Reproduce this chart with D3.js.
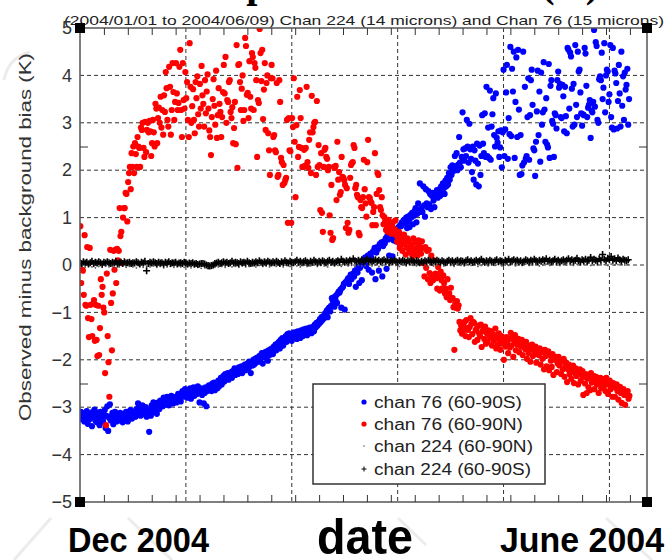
<!DOCTYPE html>
<html>
<head>
<meta charset="utf-8">
<script src="https://cdn.jsdelivr.net/npm/d3@7"></script>
<style>
  html, body { margin: 0; padding: 0; background: #fff; }
  svg { display: block; }
</style>
</head>
<body>
<div id="chart"></div>
<script>
// Observed-minus-background departures, 2004-01-01 (day 0) to 2004-06-09 (day 160).
// chan 76 series: 4 analyses per day; chan 224 (60-90S): 2 per day; chan 224 (60-90N): 1 per day.
const perDay76 = 4, perDay224S = 2, perDay224N = 1;

const chan76S = [
  -3.18,-3.1,-3.25,-3.15,-3.22,-3.3,-3.12,-3.2,-3.08,-3.35,-3.18,-3.26,-3.14,-3.22,-3.4,-3.1,
  -3.2,-3.05,-3.28,-3.16,-3.32,-3.12,-3.22,-3.38,-3.1,-3.24,-3.16,-3.3,-3.2,-3.06,-3.44,-3.18,
  -2.98,-3.5,-3.22,-2.94,-3.28,-3.18,-3.12,-3.36,-3.24,-3.1,-3.2,-3.3,-3.16,-3.28,-3.22,-3.12,
  -3.26,-3.18,-3.32,-3.14,-3.2,-3.28,-3.1,-3.24,-3.3,-3.16,-3.22,-3.06,-3.18,-3.24,-3.1,-3.2,
  -3.12,-3.2,-3.04,-3.16,-2.92,-3.1,-3.0,-3.18,-3.06,-2.96,-3.14,-3.02,-3.1,-3.0,-3.2,-3.08,
  -3.12,-3.52,-3.04,-3.18,-2.96,-3.1,-2.9,-3.02,-3.08,-2.92,-3.14,-2.98,-2.9,-3.04,-2.86,-2.96,
  -2.88,-2.98,-2.8,-2.92,-2.84,-2.94,-2.78,-2.9,-2.96,-2.82,-2.88,-2.76,-2.86,-2.92,-2.8,-2.88,
  -2.78,-2.9,-2.82,-2.72,-2.84,-2.76,-2.88,-2.7,-2.66,-2.78,-2.72,-2.62,-2.74,-2.68,-2.8,-2.64,
  -2.72,-2.6,-2.82,-2.68,-2.7,-2.58,-2.76,-2.64,-2.62,-2.72,-2.56,-2.66,-2.9,-2.68,-2.6,-2.74,
  -2.64,-2.92,-2.7,-2.58,-2.98,-2.66,-2.6,-2.54,-2.62,-2.56,-2.66,-2.5,-2.58,-2.48,-2.64,-2.54,
  -2.5,-2.6,-2.44,-2.56,-2.46,-2.38,-2.52,-2.42,-2.34,-2.46,-2.3,-2.4,-2.36,-2.28,-2.42,-2.32,
  -2.3,-2.26,-2.38,-2.24,-2.28,-2.18,-2.32,-2.22,-2.2,-2.3,-2.16,-2.24,-2.22,-2.14,-2.28,-2.18,
  -2.16,-2.1,-2.22,-2.12,-2.08,-2.18,-2.04,-2.14,-2.28,-2.06,-2.12,-2.0,-2.1,-1.98,-2.06,-1.96,
  -1.96,-2.04,-1.92,-2.0,-1.9,-1.86,-2.08,-1.94,-1.88,-1.84,-1.96,-1.82,-2.02,-1.8,-1.9,-1.78,
  -1.82,-1.76,-1.88,-1.72,-1.74,-1.68,-1.8,-1.66,-1.7,-1.62,-1.76,-1.58,-1.64,-1.54,-1.7,-1.6,
  -1.56,-1.5,-1.62,-1.46,-1.52,-1.44,-1.58,-1.48,-1.6,-1.46,-1.52,-1.42,-1.5,-1.44,-1.56,-1.4,
  -1.48,-1.42,-1.54,-1.38,-1.44,-1.5,-1.36,-1.46,-1.4,-1.34,-1.48,-1.36,-1.42,-1.32,-1.38,-1.44,
  -1.36,-1.3,-1.4,-1.26,-1.32,-1.22,-1.28,-1.2,-1.24,-1.14,-1.2,-1.1,-1.16,-1.08,-1.12,-1.02,
  -1.04,-0.96,-1.1,-0.92,-0.9,-0.98,-0.86,-0.7,-0.76,-0.68,-0.88,-0.72,-0.64,-0.8,-0.6,-0.56,
  -0.58,-0.52,-0.9,-0.48,-0.46,-0.4,-0.94,-0.36,-0.38,-0.32,-0.28,-0.4,-0.26,-0.2,-0.3,-0.22,
  -0.18,-0.24,-0.12,-0.46,-0.1,-0.16,-0.04,-0.38,-0.06,0.02,-0.32,0.08,0.1,0.04,0.16,-0.02,
  0.12,0.2,-0.1,0.18,0.24,0.16,-0.16,0.28,0.3,0.36,-0.3,0.26,0.38,0.34,-0.12,0.44,
  0.42,0.48,-0.24,0.4,0.5,0.46,0.56,-0.08,0.62,0.54,0.2,0.6,0.58,0.66,0.18,0.52,
  0.7,0.64,0.5,0.76,0.74,0.8,0.68,0.84,0.82,0.9,0.48,0.94,0.96,0.88,1.0,0.78,
  1.02,0.92,0.8,1.06,1.0,1.1,0.86,1.04,1.14,1.2,0.9,1.08,1.3,1.16,1.72,1.12,
  1.2,1.12,1.66,1.26,1.02,1.6,1.3,1.22,1.56,1.28,1.5,1.18,1.46,1.52,1.36,1.22,
  1.44,1.48,1.58,1.42,1.52,1.6,1.46,1.66,1.54,1.72,1.62,1.5,1.78,1.66,1.84,1.7,
  1.94,1.8,2.06,1.9,2.1,1.98,2.04,2.3,2.08,2.36,2.0,2.12,2.7,2.16,2.06,2.28,
  3.22,2.44,2.2,2.46,2.3,3.06,2.5,2.16,2.98,2.44,2.24,1.96,2.5,1.8,2.42,2.2,
  1.7,2.56,2.14,1.66,2.52,1.9,2.3,3.16,2.56,2.36,3.2,2.28,3.76,2.3,2.9,2.26,
  3.68,2.22,2.92,3.18,3.52,2.74,2.5,3.62,2.68,2.58,2.82,2.28,2.48,2.84,2.06,2.8,
  4.12,2.3,2.86,3.64,4.22,2.24,3.1,2.76,4.6,2.72,4.14,3.66,4.5,2.26,3.44,4.38,
  2.7,4.54,3.28,1.9,2.74,1.92,2.1,4.5,2.16,3.76,2.24,2.3,3.12,3.94,2.22,3.16,
  3.9,4.12,3.38,2.46,2.42,1.88,2.6,3.24,4.1,2.74,3.66,2.18,4.06,2.96,3.22,4.28,
  3.28,2.6,3.52,2.54,2.48,4.24,2.26,3.78,3.9,3.04,2.98,2.28,3.2,3.16,2.88,3.9,
  4.08,3.74,3.82,3.12,3.1,3.8,3.56,2.82,3.76,3.14,2.78,4.58,4.54,3.3,4.48,4.4,
  3.72,2.92,3.82,2.96,4.64,3.38,3.12,4.5,4.08,4.12,3.64,3.2,2.94,3.18,3.16,4.58,
  4.46,3.78,3.12,3.32,3.38,3.48,2.68,3.26,3.22,3.44,4.96,3.34,4.7,4.62,3.06,3.0,
  3.92,3.98,3.9,4.48,3.5,3.74,4.68,3.22,4.0,4.12,4.08,3.44,3.6,4.64,3.12,2.9,
  4.58,2.86,4.1,4.04,3.84,2.88,3.46,4.22,3.62,2.92,4.5,3.36,3.98,3.06,4.06,3.7,
  3.8,4.14,2.96,3.5
];

const chan76N = [
  0.82,-0.38,-0.1,-0.12,-0.63,0.63,-0.84,-0.86,0.38,-1.12,-1.52,0.36,-0.84,-1.14,-1.5,-0.82,
  -0.74,-1.6,-0.84,-1.58,-1.92,-0.86,-1.9,-1.33,-0.3,-0.63,-0.46,-0.9,-1.0,-2.28,-3.38,-0.18,
  -1.5,-2.05,-2.78,0.32,-0.8,-1.8,-0.6,0.3,-0.1,0.32,-0.38,0.34,0.1,0.3,1.2,0.61,
  0.7,0.04,1.0,1.2,1.2,1.52,1.5,0.92,1.75,1.94,2.07,1.6,2.36,2.07,2.5,1.94,
  2.57,2.34,2.07,2.7,2.5,2.47,2.07,2.9,2.85,3.0,2.47,2.28,3.02,2.38,2.85,3.0,
  2.8,3.04,2.82,2.3,2.57,3.06,2.8,2.5,3.4,3.3,2.57,3.1,3.32,3.0,3.55,2.9,
  3.27,2.75,3.58,3.23,4.07,3.73,3.06,2.92,4.18,3.76,2.75,3.27,4.26,3.65,3.06,3.44,
  4.26,3.62,3.27,3.42,4.18,4.54,3.27,2.7,4.26,3.48,3.3,4.07,3.52,3.86,3.06,2.7,
  4.68,3.76,3.0,3.35,3.71,3.06,2.78,3.86,3.52,3.98,3.18,2.92,3.82,3.3,4.2,3.58,
  3.4,2.92,3.9,3.2,3.66,4.02,3.3,2.84,2.7,2.32,3.12,3.5,3.92,3.36,2.96,4.1,
  2.68,3.16,3.73,3.4,3.23,2.7,3.12,3.65,4.22,3.62,4.39,3.0,3.48,3.44,3.86,3.9,
  3.23,3.1,3.33,2.57,2.89,3.44,2.55,4.64,2.05,4.22,4.24,3.86,3.27,3.72,4.0,3.04,
  3.27,4.79,4.62,3.59,3.63,3.1,4.3,3.55,3.3,4.47,4.39,3.27,4.26,4.16,3.9,2.28,
  3.48,3.42,4.98,4.47,3.88,4.54,3.08,3.7,4.26,2.85,3.84,4.0,2.78,2.42,1.9,3.94,
  4.22,3.94,2.7,2.74,2.42,2.38,3.84,1.86,1.9,3.9,3.44,2.26,2.17,1.69,2.11,1.73,
  1.79,1.84,3.06,0.89,3.1,2.42,2.4,0.89,3.1,2.91,3.94,2.6,1.43,2.95,3.55,2.28,
  2.49,3.69,3.1,2.47,2.07,2.07,2.43,2.09,2.47,3.76,2.17,2.05,2.64,2.8,1.94,3.57,
  2.8,2.91,3.0,3.02,1.9,3.46,2.07,2.53,2.11,1.16,2.36,1.1,0.7,2.07,2.43,2.47,
  2.28,2.24,2.0,2.07,1.05,0.68,1.69,0.53,0.57,2.07,2.05,2.09,1.37,2.6,1.8,1.96,
  1.48,1.54,2.28,1.86,1.84,1.79,1.69,0.78,1.62,0.89,0.68,0.74,1.84,2.11,2.15,2.17,
  2.53,2.47,1.62,1.69,1.48,1.43,0.68,0.63,1.37,1.22,1.2,1.43,2.22,1.6,1.3,1.02,
  2.17,2.64,1.43,1.41,1.33,1.31,0.84,1.12,1.22,2.36,0.84,1.5,1.94,1.9,1.58,1.22,
  1.16,1.43,1.05,0.86,1.01,0.92,0.74,0.82,0.7,0.95,0.88,0.78,0.66,0.84,0.9,0.72,
  0.76,0.94,0.62,0.5,0.48,0.7,0.36,0.58,0.42,0.3,0.52,0.64,0.46,0.22,0.38,0.56,
  0.34,0.5,0.26,0.44,0.4,0.18,0.56,0.32,0.28,0.48,0.36,0.2,0.52,0.42,0.3,0.24,
  0.5,0.04,0.36,-0.24,0.38,-0.06,0.3,-0.3,0.32,-0.17,-0.38,0.2,-0.26,-0.32,0.1,-0.2,
  -0.18,-0.28,-0.5,-0.04,-0.25,-0.54,-0.14,-0.32,-0.49,-0.22,-0.38,-0.6,-0.5,-0.68,-0.3,-0.62,
  -0.6,-0.74,-0.48,-0.7,-0.7,-0.89,-1.79,-0.82,-0.9,-0.76,-0.92,-0.85,-1.2,-1.38,-1.28,-1.45,
  -1.41,-1.31,-1.2,-1.5,-1.16,-1.33,-1.37,-1.52,-1.31,-1.12,-1.24,-1.46,-1.2,-1.22,-1.62,-1.38,
  -1.34,-1.58,-1.28,-1.44,-1.5,-1.26,-1.73,-1.4,-1.36,-1.56,-1.3,-1.66,-1.44,-1.62,-1.38,-1.5,
  -1.52,-1.4,-1.7,-1.46,-1.6,-1.48,-1.34,-1.76,-1.54,-1.68,-1.44,-1.62,-1.79,-1.5,-1.66,-1.58,
  -2.0,-1.6,-1.72,-1.52,-1.64,-1.86,-1.56,-1.74,-1.43,-1.7,-1.52,-1.94,-1.6,-1.48,-1.8,-1.66,
  -1.68,-1.56,-1.84,-1.62,-1.72,-1.58,-1.9,-1.66,-1.65,-1.78,-1.62,-1.98,-1.73,-1.86,-1.7,-2.04,
  -1.76,-1.68,-1.92,-1.8,-1.82,-1.72,-2.06,-1.88,-1.79,-1.9,-1.76,-2.1,-1.84,-1.98,-1.8,-2.2,
  -1.79,-1.92,-2.14,-1.86,-1.82,-2.22,-1.9,-2.02,-2.15,-1.88,-2.32,-1.96,-2.0,-1.94,-2.26,-2.08,
  -1.94,-2.12,-2.0,-2.3,-2.04,-2.2,-1.98,-2.36,-2.15,-2.06,-2.47,-2.2,-2.1,-2.3,-2.18,-2.4,
  -2.22,-2.12,-2.49,-2.28,-2.18,-2.34,-2.26,-2.52,-2.28,-2.2,-2.44,-2.32,-2.24,-2.74,-2.36,-2.5,
  -2.3,-2.7,-2.4,-2.58,-2.36,-2.64,-2.28,-2.48,-2.4,-2.34,-2.62,-2.46,-2.36,-2.52,-2.44,-2.7,
  -2.43,-2.38,-2.6,-2.5,-2.46,-2.56,-2.4,-2.66,-2.38,-2.52,-2.72,-2.48,-2.44,-2.62,-2.5,-2.78,
  -2.49,-2.58,-2.78,-2.56,-2.52,-2.66,-2.84,-2.6,-2.57,-2.7,-2.91,-2.64,-2.62,-2.74,-2.95,-2.7,
  -2.7,-2.66,-2.82,-2.76
];

const chan224S = [
  0.05,0.03,0.07,0.04,0.06,0.02,0.05,0.08,0.03,0.06,0.04,0.07,0.05,0.02,0.06,0.04,
  0.07,0.05,0.03,0.06,0.04,0.08,0.02,0.05,0.06,0.03,0.07,0.04,0.05,0.06,0.03,0.05,
  0.04,0.07,0.05,0.02,0.06,0.04,0.08,-0.12,0.03,0.06,0.04,0.07,0.05,0.03,0.06,0.04,
  0.05,0.02,0.06,0.04,0.07,0.03,0.05,0.04,0.06,0.02,0.04,0.05,0.03,0.06,0.04,0.02,
  0.04,0.03,0.05,0.02,0.03,0.01,0.02,0.03,0.03,0.02,0.0,-0.01,-0.02,-0.01,0.0,0.03,
  0.04,0.06,0.03,0.05,0.07,0.04,0.06,0.03,0.05,0.08,0.04,0.06,0.05,0.03,0.07,0.05,
  0.06,0.04,0.08,0.05,0.03,0.06,0.04,0.07,0.05,0.09,0.06,0.04,0.07,0.05,0.08,0.06,
  0.04,0.07,0.05,0.08,0.06,0.03,0.07,0.05,0.09,0.06,0.04,0.08,0.06,0.05,0.07,0.1,
  0.06,0.08,0.05,0.07,0.09,0.06,0.04,0.08,0.06,0.1,0.07,0.05,0.08,0.06,0.09,0.07,
  0.05,0.08,0.1,0.06,0.08,0.05,0.07,0.09,0.06,0.12,0.08,0.06,0.09,0.07,0.1,0.08,
  0.13,0.09,0.07,0.1,0.08,0.11,0.07,0.09,0.12,0.08,0.1,0.07,0.09,0.11,0.08,0.1,
  0.07,0.09,0.11,0.08,0.1,0.06,0.09,0.07,0.1,0.08,0.06,0.09,0.07,0.1,0.08,0.06,
  0.09,0.07,0.1,0.08,0.06,0.09,0.07,0.05,0.08,0.06,0.09,0.07,0.1,0.08,0.06,0.09,
  0.07,0.1,0.08,0.06,0.09,0.07,0.05,0.08,0.1,0.07,0.09,0.06,0.08,0.1,0.07,0.09,
  0.08,0.06,0.09,0.11,0.07,0.09,0.06,0.08,0.1,0.07,0.09,0.12,0.08,0.06,0.09,0.07,
  0.1,0.08,0.06,0.09,0.11,0.07,0.09,0.08,0.06,0.1,0.08,0.12,0.07,0.09,0.11,0.08,
  0.1,0.07,0.09,0.06,0.08,0.11,0.09,0.07,0.1,0.08,0.12,0.09,0.07,0.1,0.08,0.11,
  0.09,0.13,0.08,0.1,0.07,0.09,0.12,0.08,0.1,0.07,0.09,0.11,0.08,0.1,0.13,0.09,
  0.11,0.08,0.1,0.14,0.09,0.07,0.11,0.09,0.12,0.08,0.1,0.16,0.09,0.12,0.1,0.08,
  0.13,0.1,0.22,0.12,0.09,0.14,0.11,0.18,0.1,0.13,0.09,0.15,0.11,0.08,0.12,0.1,
  0.09,0.11
];

const chan224N = [
  -0.03,-0.05,-0.02,-0.04,-0.06,-0.03,-0.05,-0.02,-0.04,-0.03,
  -0.06,-0.04,-0.02,-0.05,-0.03,-0.04,-0.06,-0.02,-0.05,-0.03,
  -0.04,-0.02,-0.05,-0.03,-0.06,-0.04,-0.03,-0.05,-0.02,-0.04,
  -0.05,-0.03,-0.06,-0.04,-0.05,-0.07,-0.06,-0.08,-0.07,-0.05,
  -0.04,-0.03,-0.05,-0.02,-0.04,-0.03,-0.05,-0.02,-0.04,-0.03,
  -0.02,-0.04,-0.01,-0.03,-0.02,-0.04,-0.01,-0.03,-0.02,-0.04,
  -0.01,-0.03,0.0,-0.02,-0.04,-0.01,-0.03,-0.02,0.0,-0.03,
  -0.01,-0.02,-0.04,0.0,-0.02,-0.01,-0.03,0.01,-0.02,-0.01,
  -0.03,0.0,-0.02,-0.01,0.01,-0.02,0.0,-0.03,-0.01,0.0,
  -0.02,0.01,-0.01,-0.03,0.0,-0.02,0.01,-0.01,-0.02,0.0,
  -0.01,-0.03,0.0,-0.02,-0.01,0.01,-0.02,0.0,-0.01,-0.03,
  0.0,-0.01,-0.02,0.01,-0.01,0.0,-0.03,-0.01,0.01,-0.02,
  0.0,-0.01,0.02,-0.02,0.0,-0.01,0.01,-0.02,0.0,-0.01,
  0.02,-0.01,0.0,0.01,-0.02,0.0,0.02,-0.01,0.01,0.0,
  -0.01,0.02,0.0,0.01,-0.01,0.02,0.0,0.01,0.03,-0.01,
  0.01,0.0,0.02,0.01,-0.01,0.02,0.0,0.01,0.02,0.0,
  0.01
];

const legendLabels = ["chan 76 (60-90S)", "chan 76 (60-90N)", "chan 224 (60-90N)", "chan 224 (60-90S)"];
const legendWidths = [148, 149, 159, 157];
const yLabelValues = [-5, -4, -3, -2, -1, 0, 1, 2, 3, 4, 5];
const yGridValues = [-4, -3, -2, -1, 0, 1, 2, 3, 4];
const yMinorTicks = [-2.5, 2.5];
const monthGridDays = [31, 62, 93, 124, 155];
const weekTickDays = d3.range(7, 166, 7);
const titleText = "Temperature bias (K)";
const subtitleText = "(2004/01/01 to 2004/06/09) Chan 224 (14 microns) and Chan 76 (15 microns)";
const yTitleText = "Observed minus background bias (K)";
const dateLeft = "Dec 2004", dateMid = "date", dateRight = "June 2004";

const W = 668, H = 560;
const svg = d3.select("#chart").append("svg").attr("width", W).attr("height", H);

const x = d3.scaleLinear().domain([0, 166]).range([80, 647]);
const y = d3.scaleLinear().domain([-5, 5]).range([502, 28]);
const [x0, x1] = x.range();
const [yb, yt] = y.range();

// faint background strokes
const haze = svg.append("g").attr("stroke", "#ececec").attr("stroke-width", 3).attr("fill", "none");
[[51, 518, 14, 560], [128, 518, 172, 560], [398, 518, 426, 545], [606, 518, 652, 560]].forEach(s =>
  haze.append("line").attr("x1", s[0]).attr("y1", s[1]).attr("x2", s[2]).attr("y2", s[3]));
haze.append("path").attr("d", "M30,52 Q8,58 4,80");

// title (upper part lies above the page)
svg.append("text").attr("x", 599).attr("y", -3).attr("text-anchor", "end")
  .attr("font-family", "Liberation Serif, serif").attr("font-weight", "bold").attr("font-size", 40)
  .attr("word-spacing", 29).attr("fill", "#000").text(titleText);

svg.append("text").attr("x", 64).attr("y", 24.5)
  .attr("font-family", "Liberation Sans, Arial, sans-serif").attr("font-size", 13.5)
  .attr("fill", "#222").attr("textLength", 600).attr("lengthAdjust", "spacingAndGlyphs")
  .text(subtitleText);

// dashed grid
const grid = svg.append("g").attr("stroke", "#333").attr("stroke-width", 1).attr("stroke-dasharray", "4,3");
grid.selectAll("line.h").data(yGridValues).join("line").attr("class", "h")
  .attr("x1", x0).attr("x2", x1).attr("y1", d => y(d)).attr("y2", d => y(d));
grid.selectAll("line.v").data(monthGridDays).join("line").attr("class", "v")
  .attr("x1", d => x(d)).attr("x2", d => x(d)).attr("y1", yt).attr("y2", yb);

// data
svg.append("clipPath").attr("id", "plotclip").append("rect")
  .attr("x", x0).attr("y", yt).attr("width", x1 - x0).attr("height", yb - yt);
const plot = svg.append("g").attr("clip-path", "url(#plotclip)");

const toPts = (arr, n, off) => arr.map((v, i) => ({ t: i / n + off, v }));

plot.append("g").selectAll("circle").data(toPts(chan76S, perDay76, 0)).join("circle")
  .attr("cx", d => x(d.t)).attr("cy", d => y(d.v)).attr("r", 3.1).attr("fill", "#0000ff");
plot.append("g").selectAll("circle").data(toPts(chan76N, perDay76, 0.1)).join("circle")
  .attr("cx", d => x(d.t)).attr("cy", d => y(d.v)).attr("r", 3.1).attr("fill", "#ff0000");
plot.append("g").selectAll("circle").data(toPts(chan224N, perDay224N, 0.5)).join("circle")
  .attr("cx", d => x(d.t)).attr("cy", d => y(d.v)).attr("r", 0.9).attr("fill", "#555");
plot.append("g").attr("stroke", "#000").attr("stroke-width", 1.6).attr("fill", "none")
  .selectAll("path").data(toPts(chan224S, perDay224S, 0)).join("path")
  .attr("d", d => `M${x(d.t) - 3.5},${y(d.v)}h7M${x(d.t)},${y(d.v) - 3.5}v7`);

// frame
svg.append("rect").attr("x", x0).attr("y", yt).attr("width", x1 - x0).attr("height", yb - yt)
  .attr("fill", "none").attr("stroke", "#555").attr("stroke-width", 1.5);

// inward ticks
function styleAxis(g) {
  g.select(".domain").remove();
  g.selectAll(".tick line").attr("stroke", "#333").attr("stroke-width", 1);
}
svg.append("g").attr("transform", `translate(0,${yt})`)
  .call(d3.axisBottom(x).tickValues(weekTickDays).tickSize(7).tickFormat("")).call(styleAxis);
svg.append("g").attr("transform", `translate(0,${yb})`)
  .call(d3.axisTop(x).tickValues(weekTickDays).tickSize(7).tickFormat("")).call(styleAxis);
svg.append("g").attr("transform", `translate(${x0},0)`)
  .call(d3.axisRight(y).tickValues(yMinorTicks).tickSize(8).tickFormat("")).call(styleAxis);
svg.append("g").attr("transform", `translate(${x1},0)`)
  .call(d3.axisLeft(y).tickValues(yMinorTicks).tickSize(8).tickFormat("")).call(styleAxis);

// y labels
const yl = svg.append("g").attr("transform", `translate(${x0},0)`)
  .call(d3.axisLeft(y).tickValues(yLabelValues).tickSize(0).tickPadding(8)
    .tickFormat(d => d < 0 ? "\u2212" + Math.abs(d) : String(d)));
yl.select(".domain").remove();
yl.selectAll("text").attr("font-family", "Liberation Sans, Arial, sans-serif")
  .attr("font-size", 18).attr("fill", "#333");

// corner markers
svg.append("g").selectAll("rect").data([[x0, yt], [x1, yt], [x0, yb], [x1, yb]]).join("rect")
  .attr("x", d => d[0] - 5).attr("y", d => d[1] - 5).attr("width", 10).attr("height", 10).attr("fill", "#000");

// y title
svg.append("text").attr("transform", "translate(31,237) rotate(-90)").attr("text-anchor", "middle")
  .attr("font-family", "Liberation Sans, Arial, sans-serif").attr("font-size", 17).attr("fill", "#333")
  .attr("textLength", 368).attr("lengthAdjust", "spacingAndGlyphs").text(yTitleText);

// legend
const lg = svg.append("g");
lg.append("rect").attr("x", 313).attr("y", 384).attr("width", 232).attr("height", 100)
  .attr("fill", "#fff").attr("stroke", "#333").attr("stroke-width", 1.5);
const rows = [402, 424, 446, 469];
lg.append("circle").attr("cx", 364).attr("cy", rows[0]).attr("r", 2.6).attr("fill", "#0000ff");
lg.append("circle").attr("cx", 364).attr("cy", rows[1]).attr("r", 2.6).attr("fill", "#ff0000");
lg.append("circle").attr("cx", 364).attr("cy", rows[2]).attr("r", 0.8).attr("fill", "#555");
lg.append("path").attr("d", `M361.5,${rows[3]}h5M364,${rows[3] - 2.5}v5`).attr("stroke", "#000").attr("stroke-width", 1);
lg.selectAll("text").data(legendLabels).join("text")
  .attr("x", 374).attr("y", (d, i) => rows[i] + 5.5)
  .attr("font-family", "Liberation Sans, Arial, sans-serif").attr("font-size", 16).attr("fill", "#222")
  .attr("textLength", (d, i) => legendWidths[i]).attr("lengthAdjust", "spacingAndGlyphs")
  .text(d => d);

// bottom captions
const cap = svg.append("g").attr("font-family", "Liberation Sans, Arial, sans-serif").attr("font-weight", "bold").attr("fill", "#000");
cap.append("text").attr("x", 68).attr("y", 552).attr("font-size", 35)
  .attr("textLength", 141).attr("lengthAdjust", "spacingAndGlyphs").text(dateLeft);
cap.append("text").attr("x", 317).attr("y", 554).attr("font-size", 50)
  .attr("textLength", 96).attr("lengthAdjust", "spacingAndGlyphs").text(dateMid);
cap.append("text").attr("x", 500).attr("y", 552).attr("font-size", 35)
  .attr("textLength", 164).attr("lengthAdjust", "spacingAndGlyphs").text(dateRight);
</script>
</body>
</html>
